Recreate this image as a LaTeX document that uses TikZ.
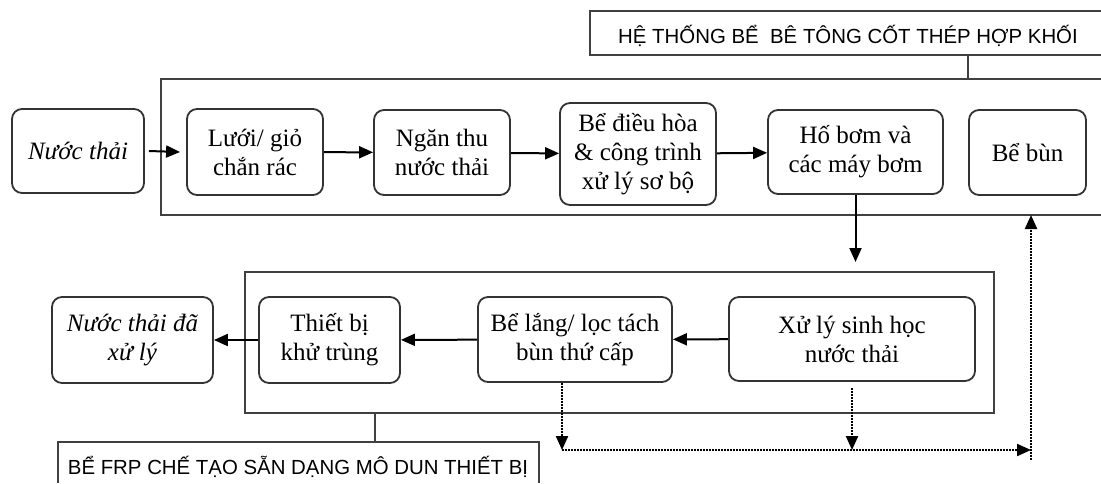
\documentclass[tikz,border=0pt]{standalone}
\usepackage{fontspec}
\setmainfont{Liberation Serif}
\setsansfont{Liberation Sans}
\usetikzlibrary{arrows.meta}

\tikzset{
    box/.style={draw=black!80,line width=0.9pt,rounded corners=5pt,align=center,
        inner sep=0pt,font=\fontsize{12.5}{14.5}\selectfont},
    frm/.style={draw=black!75,line width=1pt},
    tag/.style={font=\sffamily\fontsize{10.2}{12}\selectfont,inner sep=0pt,anchor=base},
    flow/.style={->,line width=1pt},
    mud/.style={->,line width=1.1pt,dash pattern=on 0.9pt off 0.6pt},
}

\begin{document}
\begin{tikzpicture}[x=0.5pt,y=-0.5pt,>={Stealth[length=7pt,width=6pt,inset=0pt]}]
    \useasboundingbox (0,0) rectangle (1101,483);
    % frames and their captions
    \draw[frm] (1101,79) -| (161,215) -- (1101,215);
    \draw[frm] (245,272) rectangle (994,413);
    \draw[frm] (1101,11) -| (590,55) -- (1101,55);
    \draw[frm] (58,483) |- (539,442) -- (539,483);
    \node[tag] (topcap) at (848,43) {HỆ THỐNG BỂ\ \ BÊ TÔNG CỐT THÉP HỢP KHỐI};
    \node[tag] (botcap) at (298,474) {BỂ FRP CHẾ TẠO SẴN DẠNG MÔ DUN THIẾT BỊ};
    \coordinate (topcapS) at (968,55);
    \coordinate (topfrmN) at (968,79);
    \coordinate (lowfrmS) at (375,413);
    \coordinate (botcapN) at (375,442);
    \draw[frm] (topcapS) -- (topfrmN);
    \draw[frm] (lowfrmS) -- (botcapN);

    % upper line
    \node[box,minimum width=66pt,minimum height=42pt] (in) at (78,151) {\itshape Nước thải};
    \node[box,minimum width=68pt,minimum height=43pt] (screen) at (255,152) {Lưới/ giỏ\\chắn rác};
    \node[box,minimum width=68pt,minimum height=42.5pt] (sump) at (442,152.5) {Ngăn thu\\nước thải};
    \node[box,minimum width=78pt,minimum height=51pt] (equal) at (638,154) {Bể điều hòa\\\& công trình\\xử lý sơ bộ};
    \node[box,minimum width=87.5pt,minimum height=42pt] (pump) at (855.5,152) {Hố bơm và\\các máy bơm};
    \node[box,minimum width=58.5pt,minimum height=42.5pt] (sludge) at (1027.5,152.5) {Bể bùn};

    % lower line
    \node[box,minimum width=123pt,minimum height=42pt] (bio) at (852,339) {Xử lý sinh học\\nước thải};
    \node[box,minimum width=97pt,minimum height=42.5pt] (settle) at (575,339.5) {Bể lắng/ lọc tách\\bùn thứ cấp};
    \node[box,minimum width=70.5pt,minimum height=43pt] (disinf) at (329.5,340) {Thiết bị\\khử trùng};
    \node[box,minimum width=80.5pt,minimum height=43pt] (out) at (132.5,340) {\itshape Nước thải đã\\\itshape xử lý};

    \draw[flow] ([xshift=2pt]in.east) -- ([xshift=-3pt]screen.west);
    \draw[flow] (screen) -- (sump);
    \draw[flow] (sump) -- (equal);
    \draw[flow] (equal) -- (pump);
    \coordinate (bioN) at (855.5,262);
    \draw[flow] (pump.south) -- (bioN);
    \draw[flow] (bio) -- (settle);
    \draw[flow] (settle) -- (disinf);
    \draw[flow] (disinf) -- (out);

    % sludge return
    \coordinate (mudL) at (562,450);
    \coordinate (mudR) at (1031,450);
    \coordinate (mudB) at (1031,460);
    \coordinate (sludgeS) at (1031,215);
    \draw[mud] (settle.south -| mudL) -- (mudL);
    \draw[mud] ([yshift=-3pt]bio.south) -- (bio.south |- mudL);
    \draw[mud] (mudL) -- (mudR);
    \draw[mud] (mudB) -- (sludgeS);
\end{tikzpicture}
\end{document}
